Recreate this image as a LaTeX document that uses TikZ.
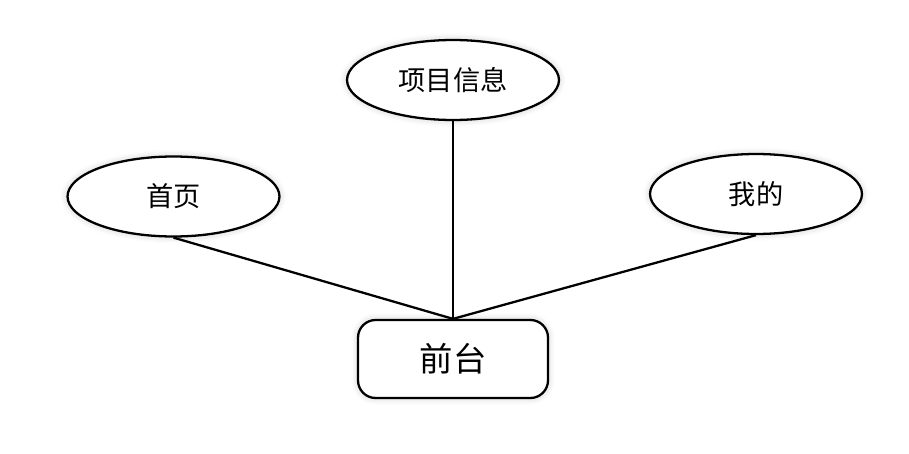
\documentclass[tikz,border=0pt]{standalone}
\usepackage{fontspec}
\setmainfont{Noto Sans CJK SC}
\usetikzlibrary{shapes.geometric,shadows.blur}

\tikzset{
    yinying/.style={blur shadow={shadow xshift=0pt,shadow yshift=0pt,shadow blur radius=4pt,
            shadow opacity=20,shadow blur steps=6}},
    gongneng/.style={ellipse,draw,line width=1.3pt,fill=white,yinying,
        minimum width=4.24cm,minimum height=1.6cm,font=\fontsize{15.5}{18}\selectfont},
    mokuai/.style={rectangle,rounded corners=10pt,draw,line width=1.3pt,fill=white,yinying,
        minimum width=3.8cm,minimum height=1.56cm,font=\fontsize{19}{22}\selectfont},
    lianxian/.style={line width=1.3pt}
}

\begin{document}
\begin{tikzpicture}[x=0.02cm,y=-0.02cm]
    \useasboundingbox (0,0) rectangle (909,453);

    % jiedian
    \node[mokuai] (qiantai) at (453,359) {前台};
    \node[gongneng] (xiangmu) at (453,80) {项目信息};
    \node[gongneng] (shouye) at (173.5,196.5) {首页};
    \node[gongneng] (wode) at (756,194) {我的};

    % lianxian
    \draw[lianxian] (shouye.south) -- (qiantai.north);
    \draw[lianxian] (xiangmu.south) -- (qiantai.north);
    \draw[lianxian] (wode.south) -- (qiantai.north);
\end{tikzpicture}
\end{document}
